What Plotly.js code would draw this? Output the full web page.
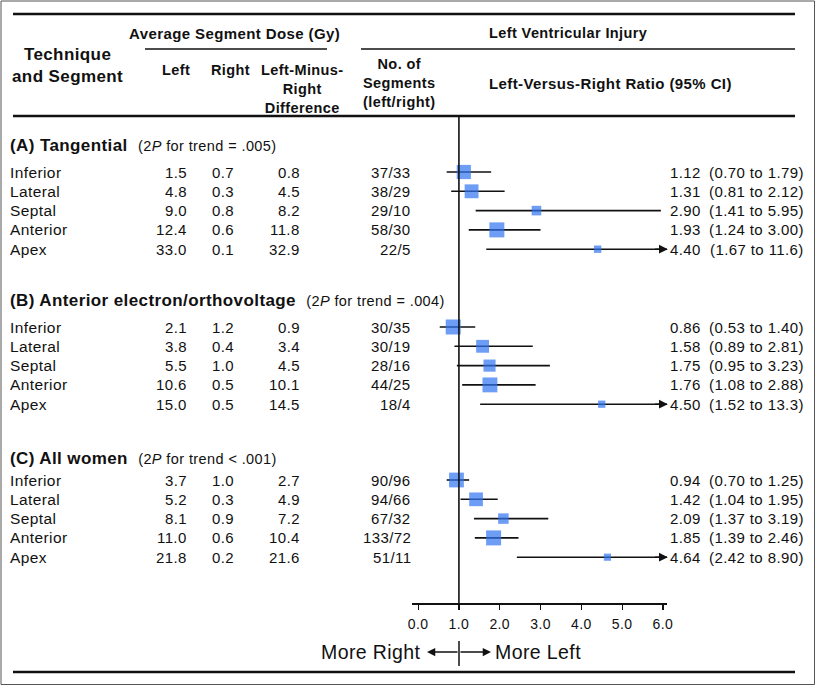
<!DOCTYPE html>
<html><head><meta charset="utf-8">
<script src="https://cdn.plot.ly/plotly-3.0.1.min.js"></script>
<style>
body{margin:0;padding:0;background:#fff}
#chart{width:816px;height:686px}
text{letter-spacing:0.4px}
</style></head><body><div id="chart"></div>
<script>
// ---------- data ----------
const sectionTitles = ["(A) Tangential", "(B) Anterior electron/orthovoltage", "(C) All women"];
const trendP = ["= .005", "= .004", "< .001"];
const segments = ["Inferior", "Lateral", "Septal", "Anterior", "Apex"];
const doseLeft  = [[1.5, 4.8, 9.0, 12.4, 33.0], [2.1, 3.8, 5.5, 10.6, 15.0], [3.7, 5.2, 8.1, 11.0, 21.8]];
const doseRight = [[0.7, 0.3, 0.8, 0.6, 0.1], [1.2, 0.4, 1.0, 0.5, 0.5], [1.0, 0.3, 0.9, 0.6, 0.2]];
const doseDiff  = [[0.8, 4.5, 8.2, 11.8, 32.9], [0.9, 3.4, 4.5, 10.1, 14.5], [2.7, 4.9, 7.2, 10.4, 21.6]];
const nLeft  = [[37, 38, 29, 58, 22], [30, 30, 28, 44, 18], [90, 94, 67, 133, 51]];
const nRight = [[33, 29, 10, 30, 5], [35, 19, 16, 25, 4], [96, 66, 32, 72, 11]];
const ratio  = [[1.12, 1.31, 2.90, 1.93, 4.40], [0.86, 1.58, 1.75, 1.76, 4.50], [0.94, 1.42, 2.09, 1.85, 4.64]];
const ciLow  = [[0.70, 0.81, 1.41, 1.24, 1.67], [0.53, 0.89, 0.95, 1.08, 1.52], [0.70, 1.04, 1.37, 1.39, 2.42]];
const ciHigh = [[1.79, 2.12, 5.95, 3.00, 11.6], [1.40, 2.81, 3.23, 2.88, 13.3], [1.25, 1.95, 3.19, 2.46, 8.90]];
const xTickVals = [0, 1, 2, 3, 4, 5, 6];
const xTickText = ["0.0", "1.0", "2.0", "3.0", "4.0", "5.0", "6.0"];

// ---------- layout helpers ----------
const W = 816, H = 686;
const FONT = "Liberation Sans, Arial, sans-serif";
const px = v => v / W;
const X_MIN = -0.15, X_MAX = 6.1, ARROW_TIP = 6.12;
const sectionY = [145, 300, 458];
const firstRowY = [172, 327, 480];
const PITCH = 19.3;
const AXIS_Y = 603;
const HS = 14.5; // header font size

const annotations = [];
const shapes = [];
function txt(x, y, text, opts) {
  opts = opts || {};
  const xa = opts.xanchor || 'left';
  annotations.push({
    xref: 'paper', yref: 'y', x: px(x), y: y, text: text, showarrow: false,
    xanchor: xa, yanchor: 'middle', align: opts.align || xa,
    font: {family: FONT, size: opts.size || 15, color: '#111'}
  });
}
function hline(x0, x1, y, w) {
  shapes.push({type: 'line', xref: 'paper', yref: 'y', x0: px(x0), x1: px(x1), y0: y, y1: y,
    line: {color: '#111', width: w}});
}
function vline(x, y0, y1, w, xref) {
  shapes.push({type: 'line', xref: xref || 'paper', yref: 'y', x0: xref ? x : px(x), x1: xref ? x : px(x), y0: y0, y1: y1,
    line: {color: '#111', width: w}});
}
const fmt1 = v => v.toFixed(1);
const fmtR = v => v >= 10 ? v.toFixed(1) : v.toFixed(2);

// frame
shapes.push({type: 'rect', xref: 'paper', yref: 'y', x0: px(1), x1: px(814.5), y0: 1, y1: 684.5,
  line: {color: '#555', width: 1}});

// header
hline(13, 795, 14, 2.5);
txt(235, 33, "<b>Average Segment Dose (Gy)</b>", {xanchor: 'center', size: 15});
hline(145, 327, 49, 1.5);
txt(568, 33, "<b>Left Ventricular Injury</b>", {xanchor: 'center', size: HS});
hline(361, 795, 49, 1.5);
txt(67, 65, "<b>Technique<br>and Segment</b>", {xanchor: 'center', size: 17});
txt(176, 70, "<b>Left</b>", {xanchor: 'center', size: HS});
txt(230, 70, "<b>Right</b>", {xanchor: 'center', size: HS});
txt(302, 88.5, "<b>Left-Minus-<br>Right<br>Difference</b>", {xanchor: 'center', size: HS});
txt(399, 83, "<b>No. of<br>Segments<br>(left/right)</b>", {xanchor: 'center', size: HS});
txt(610, 83, "<b>Left-Versus-Right Ratio (95% CI)</b>", {xanchor: 'center', size: 15});
hline(13, 795, 116, 2.5);

// rows
const lineX = [], lineY = [], sqX = [], sqY = [], sqS = [];
for (let s = 0; s < sectionTitles.length; s++) {
  txt(8, sectionY[s], "<b>" + sectionTitles[s] + "</b>\u00a0\u00a0<span style='font-weight:normal;font-size:14.5px'>(2<i>P</i> for trend " + trendP[s] + ")</span>", {size: 17});
  const w = ciLow[s].map((lo, i) => 3.92 / (Math.log(ciHigh[s][i]) - Math.log(lo)));
  const wMax = Math.max.apply(null, w);
  for (let i = 0; i < segments.length; i++) {
    const y = firstRowY[s] + i * PITCH;
    txt(8, y, segments[i], {size: 15.5});
    txt(189, y, fmt1(doseLeft[s][i]), {xanchor: 'right'});
    txt(236, y, fmt1(doseRight[s][i]), {xanchor: 'right'});
    txt(302, y, fmt1(doseDiff[s][i]), {xanchor: 'right'});
    txt(413, y, nLeft[s][i] + "/" + nRight[s][i], {xanchor: 'right'});
    txt(703, y, ratio[s][i].toFixed(2), {xanchor: 'right'});
    txt(806, y, "(" + fmtR(ciLow[s][i]) + " to " + fmtR(ciHigh[s][i]) + ")", {xanchor: 'right'});
    const hi = ciHigh[s][i];
    lineX.push(ciLow[s][i], Math.min(hi, X_MAX), null);
    lineY.push(y, y, null);
    if (hi > X_MAX) {
      annotations.push({xref: 'x', yref: 'y', x: ARROW_TIP, y: y, axref: 'x', ayref: 'y', ax: ARROW_TIP - 0.35, ay: y,
        text: '', showarrow: true, arrowhead: 2, arrowsize: 1.1, arrowwidth: 1.6, arrowcolor: '#111', standoff: 0, startstandoff: 0});
    }
    sqX.push(ratio[s][i]); sqY.push(y); sqS.push(1 + 14 * w[i] / wMax);
  }
}

// reference line at 1
vline(1, 116, AXIS_Y, 1.6, 'x');

// bottom direction labels
txt(423, 652, "More Right", {xanchor: 'right', size: 19.5});
txt(493, 652, "More Left", {xanchor: 'left', size: 19.5});
annotations.push({xref: 'paper', yref: 'y', x: px(427), y: 652, ax: 32, ay: 0, text: '', showarrow: true,
  arrowhead: 2, arrowsize: 1.1, arrowwidth: 1.5, arrowcolor: '#111', standoff: 0});
annotations.push({xref: 'paper', yref: 'y', x: px(491), y: 652, ax: -32, ay: 0, text: '', showarrow: true,
  arrowhead: 2, arrowsize: 1.1, arrowwidth: 1.5, arrowcolor: '#111', standoff: 0});
vline(459, 641, 666, 1.5);

// bottom rule
hline(13, 795, 672, 2.5);

const traces = [
  {type: 'scatter', mode: 'lines', x: lineX, y: lineY, line: {color: '#111', width: 1.6},
   hoverinfo: 'skip', showlegend: false, connectgaps: false},
  {type: 'scatter', mode: 'markers', x: sqX, y: sqY,
   marker: {symbol: 'square', size: sqS, color: '#2f74f0', line: {width: 0}},
   showlegend: false, cliponaxis: false}
];

const layout = {
  width: W, height: H, margin: {l: 0, r: 0, t: 0, b: 0, pad: 0},
  paper_bgcolor: '#fff', plot_bgcolor: 'rgba(0,0,0,0)', showlegend: false,
  font: {family: FONT, color: '#111'},
  xaxis: {domain: [412 / W, 667 / W], range: [X_MIN, X_MAX], anchor: 'free', position: 1 - AXIS_Y / H,
    tickvals: xTickVals, ticktext: xTickText, ticks: 'outside', ticklen: 5, tickwidth: 1.2, tickcolor: '#111',
    ticklabelstandoff: 3,
    showline: true, linecolor: '#111', linewidth: 1.5, showgrid: false, zeroline: false,
    tickfont: {family: FONT, size: 14, color: '#111'}, fixedrange: true},
  yaxis: {domain: [0, 1], range: [H, 0], visible: false, showgrid: false, zeroline: false, fixedrange: true},
  annotations: annotations, shapes: shapes
};

Plotly.newPlot('chart', traces, layout, {displayModeBar: false, staticPlot: true});
</script></body></html>
